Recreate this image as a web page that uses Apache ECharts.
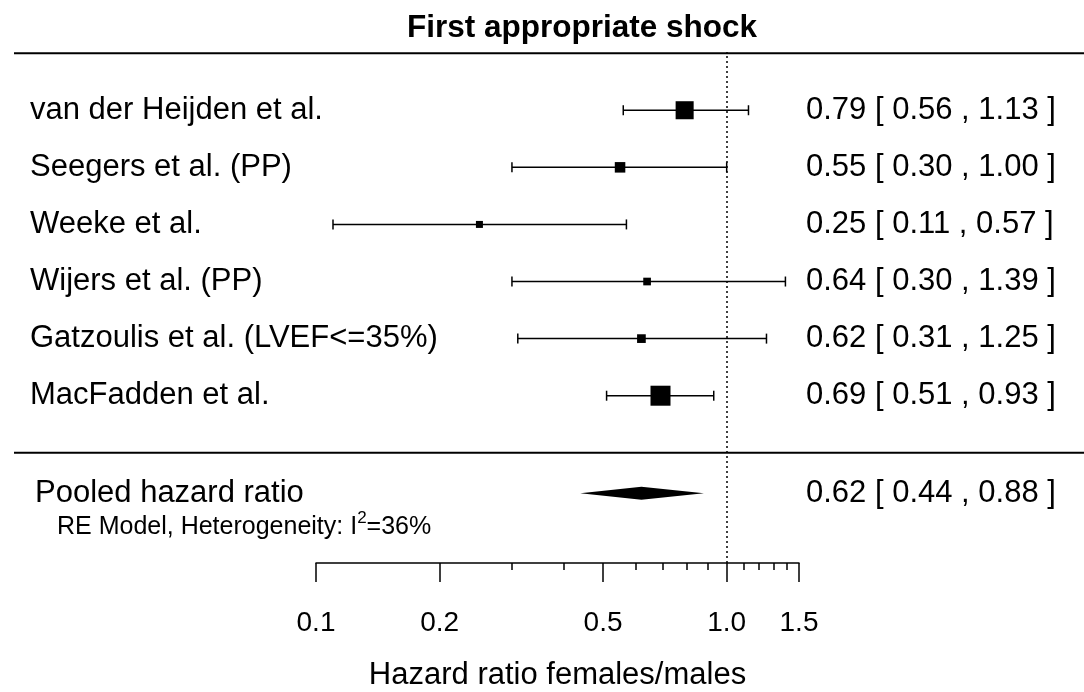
<!DOCTYPE html>
<html>
<head>
<meta charset="utf-8">
<script src="https://cdn.jsdelivr.net/npm/echarts@6/dist/echarts.min.js"></script>
<style>
  html, body { margin: 0; padding: 0; background: #fff; }
  #chart { width: 1084px; height: 692px; }
</style>
</head>
<body>
<div id="chart"></div>
<script>
// study rows, top to bottom
const studies = [
  'van der Heijden et al.',
  'Seegers et al. (PP)',
  'Weeke et al.',
  'Wijers et al. (PP)',
  'Gatzoulis et al. (LVEF<=35%)',
  'MacFadden et al.'
];
const estimates = [0.79, 0.55, 0.25, 0.64, 0.62, 0.69];
const lower = [0.56, 0.30, 0.11, 0.30, 0.31, 0.51];
const upper = [1.13, 1.00, 0.57, 1.39, 1.25, 0.93];
const weights = [25.6, 14.5, 9.3, 10.3, 11.8, 28.5]; // RE weights (%)
const rows = [6, 5, 4, 3, 2, 1];

// pooled estimate
const pooledLabel = 'Pooled hazard ratio';
const pooledEst = 0.62;
const pooledLower = 0.44;
const pooledUpper = 0.88;
const pooledRow = -0.71;
const i2 = 36;

// axis
const majorTicks = [0.1, 0.2, 0.5, 1.0, 1.5];
const minorTicks = [0.3, 0.4, 0.6, 0.7, 0.8, 0.9, 1.1, 1.2, 1.3, 1.4];
const separatorRows = [7, 0];

const FONT = '"Liberation Sans", Arial, sans-serif';
const lg = Math.log10;
const fmt = v => v.toFixed(2);
const ciText = (e, l, h) => fmt(e) + ' [ ' + fmt(l) + ' , ' + fmt(h) + ' ]';

const wMin = Math.min(...weights), wMax = Math.max(...weights);

const studyData = studies.map((s, i) => [lg(estimates[i]), rows[i], lg(lower[i]), lg(upper[i]), weights[i]]);

var chart = echarts.init(document.getElementById('chart'));

var option = {
  animation: false,
  backgroundColor: '#fff',
  title: {
    text: 'First appropriate shock',
    left: 577,
    textAlign: 'center',
    top: 7,
    textStyle: { fontFamily: FONT, fontSize: 31.5, fontWeight: 'bold', color: '#000' }
  },
  grid: { left: 316, right: 285, top: 52, bottom: 129, outerBoundsMode: 'none' },
  xAxis: [
    {
      type: 'value',
      min: -1,
      max: lg(1.5),
      name: 'Hazard ratio females/males',
      nameLocation: 'middle',
      nameGap: 97,
      nameTextStyle: { fontFamily: FONT, fontSize: 31, color: '#000' },
      axisLine: { show: true, onZero: false, lineStyle: { color: '#000', width: 1.5 } },
      axisTick: { show: true, length: 19, customValues: majorTicks.map(lg), lineStyle: { color: '#000', width: 1.5 } },
      axisLabel: {
        customValues: majorTicks.map(lg),
        formatter: v => Math.pow(10, v).toFixed(1),
        margin: 46,
        fontFamily: FONT, fontSize: 28, color: '#000'
      },
      splitLine: { show: false }
    },
    {
      type: 'value',
      min: -1,
      max: lg(1.5),
      position: 'bottom',
      axisLine: { show: false, onZero: false },
      axisTick: { show: true, length: 7, customValues: minorTicks.map(lg), lineStyle: { color: '#000', width: 1.5 } },
      axisLabel: { show: false },
      splitLine: { show: false }
    }
  ],
  yAxis: {
    type: 'value',
    min: -1.93,
    max: 7.02,
    show: false
  },
  series: [
    {
      // horizontal separators across the full width
      type: 'custom',
      data: separatorRows.map(r => [0, r]),
      renderItem: function (params, api) {
        const y = api.coord([0, api.value(1)])[1];
        return {
          type: 'line',
          shape: { x1: 14, y1: y, x2: api.getWidth(), y2: y },
          style: { stroke: '#000', lineWidth: 2 }
        };
      },
      markLine: {
        silent: true,
        symbol: 'none',
        label: { show: false },
        lineStyle: { color: '#000', type: [2, 3], width: 1.5 },
        data: [{ xAxis: 0 }]
      }
    },
    {
      type: 'custom',
      data: studyData,
      renderItem: function (params, api) {
        const i = params.dataIndex;
        const row = api.value(1);
        const c = api.coord([api.value(0), row]);
        const l = api.coord([api.value(2), row]);
        const h = api.coord([api.value(3), row]);
        const size = 7 + 13 * (api.value(4) - wMin) / (wMax - wMin);
        const cap = 5;
        const line = { stroke: '#000', lineWidth: 1.5 };
        return {
          type: 'group',
          children: [
            { type: 'line', shape: { x1: l[0], y1: c[1], x2: h[0], y2: c[1] }, style: line },
            { type: 'line', shape: { x1: l[0], y1: c[1] - cap, x2: l[0], y2: c[1] + cap }, style: line },
            { type: 'line', shape: { x1: h[0], y1: c[1] - cap, x2: h[0], y2: c[1] + cap }, style: line },
            { type: 'rect', shape: { x: c[0] - size / 2, y: c[1] - size / 2, width: size, height: size }, style: { fill: '#000' } },
            {
              type: 'text',
              style: { text: studies[i], x: 30, y: c[1], align: 'left', verticalAlign: 'middle', fontFamily: FONT, fontSize: 31, fill: '#000' }
            },
            {
              type: 'text',
              style: { text: ciText(estimates[i], lower[i], upper[i]), x: 806, y: c[1], align: 'left', verticalAlign: 'middle', fontFamily: FONT, fontSize: 31, fill: '#000' }
            }
          ]
        };
      }
    },
    {
      type: 'custom',
      data: [[lg(pooledEst), pooledRow, lg(pooledLower), lg(pooledUpper)]],
      renderItem: function (params, api) {
        const row = api.value(1);
        const c = api.coord([api.value(0), row]);
        const l = api.coord([api.value(2), row]);
        const h = api.coord([api.value(3), row]);
        const hh = 6.5;
        return {
          type: 'group',
          children: [
            {
              type: 'polygon',
              shape: { points: [[l[0], c[1]], [c[0], c[1] - hh], [h[0], c[1]], [c[0], c[1] + hh]] },
              style: { fill: '#000' }
            },
            {
              type: 'text',
              style: { text: pooledLabel, x: 35, y: c[1], align: 'left', verticalAlign: 'middle', fontFamily: FONT, fontSize: 31, fill: '#000' }
            },
            {
              type: 'text',
              style: {
                text: '{a|RE Model, Heterogeneity: I}{s|2}{a|=' + i2 + '%}',
                x: 57, y: c[1] + 31, align: 'left', verticalAlign: 'middle',
                rich: {
                  a: { fontFamily: FONT, fontSize: 25, fill: '#000', lineHeight: 30, verticalAlign: 'bottom' },
                  s: { fontFamily: FONT, fontSize: 17, fill: '#000', lineHeight: 30, verticalAlign: 'top' }
                }
              }
            },
            {
              type: 'text',
              style: { text: ciText(pooledEst, pooledLower, pooledUpper), x: 806, y: c[1], align: 'left', verticalAlign: 'middle', fontFamily: FONT, fontSize: 31, fill: '#000' }
            }
          ]
        };
      }
    }
  ]
};

option && chart.setOption(option);
</script>
</body>
</html>
